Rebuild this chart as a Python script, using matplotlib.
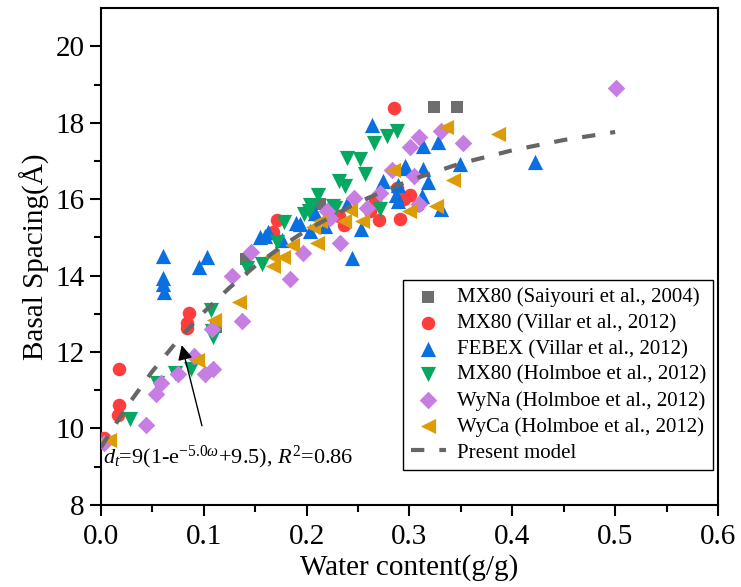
import matplotlib
matplotlib.use("Agg")
import matplotlib.pyplot as plt

plt.rcParams['font.family'] = ['Liberation Serif', 'DejaVu Serif']
plt.rcParams['mathtext.fontset'] = 'custom'
plt.rcParams['mathtext.rm'] = 'Liberation Serif'
plt.rcParams['mathtext.it'] = 'Liberation Serif:italic'

# MX80 (Saiyouri et al., 2004)
sai_w = [0.112, 0.141, 0.213, 0.324, 0.346]
sai_d = [12.65, 14.44, 15.88, 18.42, 18.42]

# MX80 (Villar et al., 2012)
vil_w = [0.003, 0.017, 0.018, 0.018, 0.084, 0.084, 0.086, 0.167, 0.171, 0.232,
         0.236, 0.267, 0.270, 0.285, 0.288, 0.291, 0.301, 0.308, 0.295, 0.262]
vil_d = [9.75, 10.35, 10.6, 11.55, 12.62, 12.75, 13.02, 15.15, 15.45, 15.55,
         15.32, 15.95, 15.45, 18.38, 16.3, 15.48, 16.12, 15.85, 16.0, 15.7]

# FEBEX (Villar et al., 2012)
feb_w = [0.060, 0.060, 0.060, 0.061, 0.095, 0.103, 0.155, 0.160, 0.163, 0.176,
         0.190, 0.194, 0.203, 0.208, 0.218, 0.239, 0.244, 0.253, 0.264, 0.274,
         0.287, 0.289, 0.289, 0.296, 0.297, 0.312, 0.313, 0.313, 0.318, 0.328,
         0.331, 0.349, 0.422]
feb_d = [14.52, 13.95, 13.78, 13.57, 14.22, 14.5, 15.0, 15.05, 15.15, 14.92,
         15.38, 15.35, 15.17, 15.65, 15.3, 15.87, 14.47, 15.22, 17.95, 16.48,
         16.1, 16.38, 15.95, 16.88, 16.82, 16.08, 16.8, 17.39, 16.45, 17.5,
         15.75, 16.93, 16.98]

# MX80 (Holmboe et al., 2012)
hmx_w = [0.028, 0.055, 0.072, 0.088, 0.107, 0.108, 0.109, 0.142, 0.157, 0.171,
         0.178, 0.198, 0.202, 0.203, 0.211, 0.226, 0.228, 0.232, 0.237, 0.239,
         0.252, 0.257, 0.266, 0.271, 0.278, 0.288]
hmx_d = [10.25, 11.2, 11.45, 11.55, 13.1, 12.55, 12.4, 14.2, 14.3, 14.88,
         15.4, 15.6, 15.7, 15.85, 16.1, 15.82, 15.78, 16.48, 16.35, 17.08,
         17.04, 16.65, 17.48, 15.74, 17.65, 17.78]

# WyNa (Holmboe et al., 2012)
wna_w = [0.003, 0.044, 0.054, 0.059, 0.075, 0.091, 0.101, 0.109, 0.108, 0.128,
         0.137, 0.146, 0.184, 0.197, 0.220, 0.223, 0.233, 0.246, 0.259, 0.271,
         0.283, 0.301, 0.304, 0.309, 0.309, 0.331, 0.352, 0.501]
wna_d = [9.62, 10.1, 10.9, 11.2, 11.42, 11.9, 11.42, 11.55, 12.6, 14.0,
         12.8, 14.62, 13.9, 14.58, 15.7, 15.5, 14.85, 16.03, 15.78, 16.15,
         16.77, 17.38, 16.6, 15.88, 17.62, 17.78, 17.48, 18.9]

# WyCa (Holmboe et al., 2012)
wca_w = [0.008, 0.094, 0.110, 0.134, 0.166, 0.167, 0.177, 0.186, 0.206, 0.210,
         0.213, 0.236, 0.242, 0.254, 0.284, 0.300, 0.326, 0.336, 0.342, 0.386]
wca_d = [9.7, 11.8, 12.83, 13.3, 14.52, 14.25, 14.48, 14.8, 15.27, 14.85,
         15.43, 15.43, 15.72, 15.43, 16.77, 15.7, 15.82, 17.9, 16.5, 17.72]

# Present model
mod_w = [0.0, 0.025, 0.05, 0.075, 0.1, 0.125, 0.15, 0.175, 0.2, 0.25,
         0.3, 0.35, 0.4, 0.45, 0.5]
mod_d = [9.5, 10.56, 11.49, 12.31, 13.04, 13.68, 14.25, 14.75, 15.19, 15.92,
         16.49, 16.94, 17.28, 17.55, 17.76]

fig = plt.figure(figsize=(7.41, 5.87), dpi=100)
ax = fig.add_axes([0.136, 0.140, 0.833, 0.846])

ax.scatter(sai_w, sai_d, marker='s', s=65, color='#6e6e6e', linewidths=0,
           label='MX80 (Saiyouri et al., 2004)', zorder=3)
ax.scatter(vil_w, vil_d, marker='o', s=95, color='#ff3d3d', linewidths=0,
           label='MX80 (Villar et al., 2012)', zorder=3)
ax.scatter(feb_w, feb_d, marker='^', s=120, color='#0a6fe0', linewidths=0,
           label='FEBEX (Villar et al., 2012)', zorder=3)
ax.scatter(hmx_w, hmx_d, marker='v', s=120, color='#05a860', linewidths=0,
           label='MX80 (Holmboe et al., 2012)', zorder=3)
ax.scatter(wna_w, wna_d, marker='D', s=80, color='#c77ee3', linewidths=0,
           label='WyNa (Holmboe et al., 2012)', zorder=3)
ax.scatter(wca_w, wca_d, marker='<', s=120, color='#de9b08', linewidths=0,
           label='WyCa (Holmboe et al., 2012)', zorder=3)
ax.plot(mod_w, mod_d, color='#666666', lw=3, dashes=(3.2, 3.6),
        label='Present model', zorder=4)

ax.annotate('', xy=(0.078, 12.25), xytext=(0.099, 10.0),
            arrowprops=dict(arrowstyle='-|>', color='k', lw=1, mutation_scale=22))
ax.text(0.002, 9.1, r'$d_t$=9(1-e$^{-5.0\omega}$+9.5), $R^2$=0.86', fontsize=16)

ax.set_xlim(0, 0.6)
ax.set_ylim(8, 21)
ax.set_xticks([0.0, 0.1, 0.2, 0.3, 0.4, 0.5, 0.6])
ax.set_xticks([0.05, 0.15, 0.25, 0.35, 0.45, 0.55], minor=True)
ax.set_yticks([8, 10, 12, 14, 16, 18, 20])
ax.set_yticks([9, 11, 13, 15, 17, 19], minor=True)
ax.tick_params(which='major', direction='out', length=8, width=1.5, labelsize=21)
ax.tick_params(axis='x', which='major', pad=6)
ax.tick_params(which='minor', direction='out', length=5, width=1.5)
for sp in ax.spines.values():
    sp.set_linewidth(1.5)

ax.set_xlabel('Water content(g/g)', fontsize=21, labelpad=3)
ax.set_ylabel('Basal Spacing(Å)', fontsize=21, labelpad=4)

leg = ax.legend(loc='lower right', bbox_to_anchor=(0.992, 0.07), fontsize=15,
                frameon=True, fancybox=False, edgecolor='black', framealpha=1,
                labelspacing=0.3, handletextpad=0.5, borderpad=0.35,
                handlelength=1.7, scatterpoints=1, borderaxespad=0)
leg.get_frame().set_linewidth(1.0)

fig.savefig('out.png', dpi=100)
